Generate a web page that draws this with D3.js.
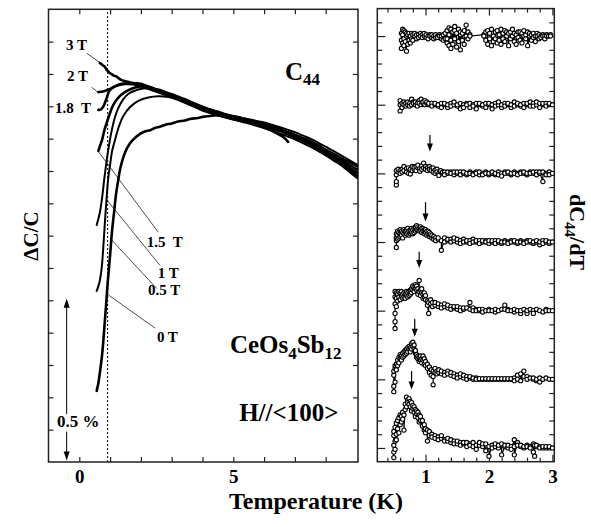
<!DOCTYPE html>
<html>
<head>
<meta charset="utf-8">
<script src="https://cdn.jsdelivr.net/npm/d3@7"></script>
<style>
  body { margin: 0; background: #fff; }
  svg text { font-family: "Liberation Serif", "Times New Roman", serif; font-weight: bold; fill: #000; }
  .pre { white-space: pre; }
</style>
</head>
<body>
<svg id="chart" width="591" height="527"></svg>
<script>
// ---------- left panel: dC/C (%) vs T (K), one curve per field
const fieldLabels = ["0 T", "0.5 T", "1 T", "1.5  T", "1.8  T", "2 T", "3 T"];

const c0T = [[0.565,0.220],[0.62,0.244],[0.67,0.278],[0.74,0.331],[0.80,0.399],[0.87,0.486],[0.93,0.563],[1.0,0.640],[1.06,0.711],[1.13,0.773],[1.19,0.826],[1.26,0.869],[1.32,0.903],[1.42,0.940],[1.55,0.971],[1.71,0.993],[1.97,1.015],[2.15,1.023],[2.30,1.026],[2.45,1.033],[2.62,1.037],[2.8,1.043],[3.01,1.047],[3.2,1.053],[3.43,1.056],[3.6,1.061],[3.85,1.064],[4.05,1.068],[4.24,1.070],[4.4,1.072],[4.57,1.072],[4.8,1.071],[5.0,1.069],[5.25,1.064],[5.5,1.058],[5.75,1.052],[6.0,1.046],[6.25,1.038],[6.5,1.030],[6.75,1.020],[7.0,1.010],[7.25,1.000],[7.5,0.990],[7.75,0.976],[8.0,0.962],[8.25,0.949],[8.5,0.935],[8.75,0.920],[9.02,0.905]];
const c05T = [[0.565,0.529],[0.62,0.544],[0.67,0.563],[0.73,0.603],[0.78,0.665],[0.83,0.739],[0.89,0.820],[0.94,0.878],[1.0,0.919],[1.06,0.959],[1.16,0.996],[1.27,1.033],[1.43,1.070],[1.65,1.098],[1.92,1.117],[2.24,1.127],[2.56,1.131],[2.94,1.128],[3.2,1.122],[3.43,1.116],[3.7,1.107],[3.92,1.098],[4.2,1.088],[4.5,1.078],[4.75,1.069],[5.0,1.060],[5.25,1.053],[5.5,1.047],[5.75,1.040],[6.0,1.033],[6.25,1.025],[6.5,1.016],[6.75,1.007],[7.0,0.998],[7.25,0.987],[7.5,0.975],[7.75,0.962],[8.0,0.948],[8.25,0.933],[8.5,0.918],[8.75,0.899],[9.02,0.878]];
const c1T = [[0.565,0.733],[0.62,0.752],[0.67,0.773],[0.74,0.817],[0.80,0.866],[0.87,0.919],[0.94,0.965],[1.05,1.024],[1.16,1.067],[1.27,1.095],[1.43,1.122],[1.59,1.138],[1.91,1.152],[2.23,1.157],[2.62,1.151],[2.94,1.138],[3.25,1.126],[3.5,1.116],[3.75,1.106],[4.0,1.097],[4.25,1.090],[4.5,1.083],[4.75,1.076],[5.0,1.070],[5.25,1.065],[5.5,1.060],[5.75,1.055],[6.0,1.050],[6.25,1.043],[6.5,1.036],[6.75,1.028],[7.0,1.020],[7.25,1.010],[7.5,1.000],[7.75,0.988],[8.0,0.975],[8.25,0.962],[8.5,0.948],[8.75,0.934],[9.02,0.920]];
const c15T = [[0.62,0.962],[0.67,0.977],[0.74,0.996],[0.80,1.021],[0.89,1.049],[1.0,1.080],[1.10,1.104],[1.26,1.126],[1.48,1.144],[1.81,1.158],[2.13,1.163],[2.35,1.158],[2.6,1.146],[2.8,1.138],[3.0,1.130],[3.25,1.120],[3.5,1.110],[3.75,1.099],[4.0,1.088],[4.25,1.080],[4.5,1.072],[4.75,1.066],[5.0,1.060],[5.25,1.056],[5.5,1.052],[5.75,1.047],[6.0,1.042],[6.25,1.034],[6.5,1.026],[6.75,1.016],[7.0,1.006],[7.25,0.995],[7.5,0.982],[7.75,0.968],[8.0,0.953],[8.25,0.940],[8.5,0.925],[8.75,0.906],[9.02,0.885]];
const c18T = [[0.62,1.089],[0.69,1.090],[0.77,1.098],[0.83,1.110],[0.90,1.129],[0.98,1.148],[1.09,1.158],[1.26,1.165],[1.48,1.169],[1.74,1.168],[2.0,1.162],[2.25,1.154],[2.5,1.146],[2.75,1.137],[3.0,1.128],[3.25,1.119],[3.5,1.109],[3.75,1.099],[4.0,1.090],[4.25,1.082],[4.5,1.074],[4.75,1.067],[5.0,1.061],[5.25,1.056],[5.5,1.051],[5.75,1.046],[6.0,1.040],[6.25,1.032],[6.5,1.024],[6.75,1.014],[7.0,1.004],[7.25,0.994],[7.5,0.983],[7.75,0.970],[8.0,0.956],[8.25,0.942],[8.5,0.928],[8.75,0.912],[9.02,0.895]];
const c2T = [[0.62,1.144],[0.70,1.145],[0.77,1.146],[0.87,1.149],[0.96,1.152],[1.06,1.157],[1.19,1.163],[1.32,1.168],[1.52,1.172],[1.81,1.170],[2.0,1.166],[2.25,1.157],[2.5,1.148],[2.75,1.140],[3.0,1.132],[3.25,1.123],[3.5,1.113],[3.75,1.104],[4.0,1.094],[4.25,1.086],[4.5,1.079],[4.75,1.071],[5.0,1.065],[5.25,1.061],[5.5,1.057],[5.75,1.052],[6.0,1.046],[6.25,1.038],[6.5,1.030],[6.75,1.021],[7.0,1.012],[7.25,1.002],[7.5,0.992],[7.75,0.980],[8.0,0.966],[8.25,0.953],[8.5,0.940],[8.75,0.928],[9.02,0.915]];
const c3T = [[0.67,1.234],[0.75,1.228],[0.83,1.222],[0.88,1.214],[0.94,1.208],[1.00,1.202],[1.06,1.199],[1.12,1.195],[1.21,1.192],[1.30,1.185],[1.38,1.181],[1.48,1.178],[1.58,1.176],[1.75,1.172],[2.0,1.170],[2.25,1.160],[2.5,1.152],[2.75,1.144],[3.0,1.137],[3.25,1.128],[3.5,1.119],[3.75,1.108],[4.0,1.099],[4.25,1.090],[4.5,1.083],[4.75,1.074],[5.0,1.066],[5.25,1.060],[5.5,1.052],[5.75,1.042],[6.0,1.034],[6.25,1.024],[6.5,1.012],[6.65,1.003],[6.78,0.990]];
const leftCurves = [c0T, c05T, c1T, c15T, c18T, c2T, c3T];

// label anchor [T, dC/C] and leader line [T1, y1, T2, y2] (null = no leader)
const labelPos = [[2.52,0.371],[2.23,0.515],[2.55,0.569],[2.19,0.665],[-0.79,1.080],[-0.40,1.178],[-0.43,1.274]];
const leaders = [[0.94,0.517,2.46,0.414],[1.0,0.692,2.51,0.537],[0.90,0.810,2.62,0.608],[0.62,0.960,2.56,0.711],null,[0.40,1.159,0.62,1.142],[0.24,1.264,0.70,1.233]];
const dottedT = 0.92;
const scaleBar = [-0.41, 0.005, 0.505]; // T, bottom, top (0.5 %)

// ---------- right panel: dC44/dT, offset per field, rows = [T, values...]
const rightBase = [0, 5, 10, 15, 20, 25, 30];
const d0T = [[0.50,-0.7,0.2,0.9,-0.3,1.2],[0.52,0.5,1.5,-0.1],[0.54,1.0,1.8,0.6],[0.56,1.4,2.0],[0.58,1.1,2.2],[0.60,1.7,2.4],[0.62,2.3,1.9],[0.64,2.6,2.1],[0.66,2.4,1.3],[0.68,3.2,2.8],[0.70,3.7,3.0],[0.72,3.5,3.3],[0.74,3.2,3.6],[0.76,3.0,3.4],[0.78,3.3,2.7],[0.80,2.9,3.1],[0.82,2.6,3.0],[0.84,2.8,2.3],[0.86,2.5,2.7],[0.88,2.2,2.6],[0.90,2.4,1.9],[0.92,2.0,2.3],[0.95,1.6,2.0],[0.98,1.7,1.3],[1.00,1.4,1.1],[1.03,1.3,0.5],[1.06,1.2,0.9],[1.10,1.0,0.8],[1.15,0.9,0.7],[1.20,0.8,0.6],[1.25,0.7,0.9],[1.30,0.6,0.5],[1.35,0.5,0.7],[1.40,0.4,0.6],[1.45,0.5,0.3],[1.50,0.3,0.5],[1.55,0.4,0.2],[1.60,0.3,0.4],[1.65,0.1,0.4],[1.70,0.3,0.2],[1.75,0.4,0.1],[1.80,0.2,-0.1],[1.85,0.2,0.4],[1.90,0.1,0.3],[1.95,-0.2,0.3],[2.00,0.1,-0.6],[2.05,0.2,0.0],[2.10,0.1,0.3],[2.15,0.0,0.2],[2.20,0.3,-0.5],[2.25,0.1,0.2],[2.30,0.0,0.2],[2.35,0.1,-0.1],[2.40,0.6,0.1,-0.5],[2.45,0.4,0.2],[2.50,0.1,0.2],[2.55,0.0,0.1],[2.60,0.2,0.1],[2.65,0.1,0.0],[2.70,0.3,-0.3],[2.72,-0.6,0.2],[2.75,0.1,0.2],[2.80,0.1,0.0],[2.85,0.0,0.1],[2.90,0.0,0.1],[2.95,0.0,0.1],[3.00,0.0]];
const d05T = [[0.50,0.3,-0.9,-0.5,0.6],[0.52,0.8,-0.2,1.0],[0.54,1.1,0.7],[0.56,1.4,1.0],[0.58,1.6,1.2],[0.60,1.5,1.8],[0.62,1.7,1.4],[0.64,1.9,1.6],[0.66,2.0,1.7],[0.68,1.8,2.1],[0.70,2.2,1.9],[0.72,2.0,2.3],[0.74,2.4,2.2],[0.76,2.3,2.0],[0.78,2.6,2.2],[0.80,2.4,2.7],[0.82,2.2,2.5],[0.84,1.9,2.1],[0.86,1.6,1.8],[0.88,1.5,1.7],[0.90,1.6,1.3],[0.92,1.4,1.7],[0.94,1.5,1.2],[0.96,1.7,1.4],[0.98,1.5,1.1],[1.00,1.3,1.0],[1.03,1.1,0.8],[1.06,0.9,0.5],[1.09,0.7,0.3],[1.12,0.2,-0.4,0.6],[1.15,0.5,0.8],[1.18,0.6,0.4],[1.21,0.5,0.7],[1.25,0.4,0.6],[1.30,0.5,0.3],[1.35,0.6,0.4],[1.40,0.3,0.5],[1.45,0.4,0.2],[1.50,0.3,0.1],[1.55,0.2,0.4],[1.60,0.1,0.3],[1.65,0.2,0.0],[1.70,0.1,0.2],[1.75,0.0,0.1],[1.80,0.1,0.0],[1.85,0.0,0.05],[1.90,0.0,0.05],[1.95,0.0,0.05],[2.00,0.0,0.05],[2.05,0.0,0.05],[2.10,0.0,0.05],[2.15,0.0,0.05],[2.20,0.0,0.05],[2.25,0.0,0.05],[2.30,0.0,0.05],[2.35,0.0,0.05],[2.40,0.1,-0.1],[2.45,0.3,0.0],[2.50,0.4,-0.1],[2.55,0.6,0.2],[2.60,0.2,0.0],[2.65,0.1],[2.70,0.0,0.1],[2.75,-0.1,0.0],[2.80,-0.2,0.1],[2.85,0.0],[2.90,0.1],[2.95,0.0],[3.00,0.0]];
const d1T = [[0.52,-1.3,-0.8,-0.2,0.5,1.0,1.4],[0.54,0.9,1.3,0.3],[0.56,1.2,0.7],[0.58,1.0,1.4],[0.60,1.3,0.8],[0.62,1.1,1.4],[0.64,0.9,1.2],[0.66,1.0,1.3],[0.68,1.2,0.9],[0.70,1.1,1.4],[0.72,1.3,1.0],[0.74,1.4,1.1],[0.76,1.5,1.2],[0.78,1.6,1.3],[0.80,1.5,1.8],[0.82,1.7,1.4],[0.84,1.6,1.9],[0.86,1.8,1.5],[0.88,1.6,1.2],[0.90,2.2,1.4],[0.92,1.5,1.1],[0.94,1.3,1.6],[0.96,1.2,0.9],[0.98,1.0,1.3],[1.00,0.8,1.1],[1.03,0.7,0.4],[1.05,-0.2,0.6],[1.08,0.5,0.8],[1.11,0.6,0.3],[1.15,0.4,0.6],[1.20,0.3,0.5],[1.25,0.4,0.2],[1.30,0.3,0.5],[1.35,0.2,0.4],[1.40,0.3,0.1],[1.45,0.2,0.3],[1.50,0.1,0.3],[1.55,0.2,0.0],[1.60,0.1,0.2],[1.65,0.2],[1.70,0.6,0.1],[1.75,0.2,0.0],[1.80,0.1,0.0],[1.85,0.0,0.1],[1.90,0.1,-0.1],[1.95,0.0],[2.00,0.1,0.0],[2.05,0.0],[2.10,-0.1,0.1],[2.15,0.0],[2.20,0.1],[2.25,0.4,0.1],[2.30,0.1,0.0],[2.35,0.0],[2.40,-0.1,0.1],[2.45,0.0],[2.50,-0.2,0.0],[2.55,0.1],[2.60,-0.2,0.0],[2.65,0.1],[2.70,0.0,-0.2],[2.75,0.1],[2.80,0.0],[2.85,-0.1],[2.90,0.1,0.0],[2.95,0.0],[3.00,0.0]];
const d15T = [[0.54,-0.4,0.1,0.6,0.3],[0.56,0.5,0.2,0.8],[0.58,0.3,0.7],[0.60,0.6,0.4,0.9],[0.62,0.5,0.8],[0.64,0.3,0.7],[0.66,0.6,0.9],[0.68,0.8,0.5],[0.70,0.6,0.9],[0.72,0.7,1.0],[0.74,0.8,0.5],[0.76,0.9,0.6],[0.78,0.7,1.0],[0.80,0.9,0.6],[0.82,1.0,0.7],[0.84,0.8,1.1],[0.86,1.2,0.9],[0.88,0.9,1.1],[0.90,1.0,0.8],[0.92,0.9,1.1],[0.94,1.0,0.7],[0.96,0.8,1.0],[0.98,0.9,0.6],[1.00,0.7,0.9],[1.02,0.8,0.5],[1.04,0.6,0.8],[1.06,0.7,0.4],[1.08,0.5,0.6],[1.10,0.3,0.5],[1.13,0.4,0.2],[1.16,0.3,0.1],[1.20,0.2,0.3],[1.25,0.1,-0.6],[1.30,0.3,0.0],[1.35,0.1,0.2],[1.40,0.2,0.0],[1.45,0.1,0.3],[1.50,0.0,0.2],[1.55,0.1,-0.1],[1.60,0.2,0.0],[1.65,0.0,0.1],[1.70,0.1,-0.1],[1.75,0.2,0.0],[1.80,0.0,0.1],[1.85,0.1,-0.1],[1.90,0.0,0.1],[1.95,0.1,0.0],[2.00,-0.1,0.1],[2.05,0.0,0.1],[2.10,0.1,-0.1],[2.15,0.0,0.1],[2.20,-0.1,0.0],[2.25,0.1,0.0],[2.30,0.0,-0.1],[2.35,0.1,0.0],[2.40,0.0,0.1],[2.45,-0.1,0.0],[2.50,0.1,0.0],[2.55,0.0,-0.1],[2.60,0.1,0.0],[2.65,0.0,0.1],[2.70,-0.1,0.0],[2.75,0.0,0.1],[2.80,-0.2,0.0],[2.85,0.1,-0.1],[2.90,0.0,0.1],[2.95,-0.1,0.0],[3.00,0.0]];
const d18T = [[0.54,-0.85,-0.6,-0.1,0.2],[0.57,0.1,0.3],[0.60,0.2,0.0],[0.63,0.3,0.1],[0.66,0.5,0.2],[0.70,0.35,0.1],[0.73,0.4,0.0],[0.76,-0.05,0.3],[0.79,0.5,0.2],[0.82,0.3,0.45],[0.85,0.5,0.2],[0.88,0.4,0.6],[0.91,0.35,0.15],[0.94,0.55,0.3],[0.97,0.75,0.4],[1.00,0.5,0.3],[1.03,0.4,0.2],[1.06,0.5,0.3],[1.09,0.35,0.2],[1.12,0.4,0.1],[1.15,0.25,0.0],[1.18,0.3,0.1],[1.21,0.0,-0.15],[1.24,0.1,0.2],[1.27,0.0,0.1],[1.30,0.1,-0.1],[1.35,0.0,0.1],[1.40,0.1,0.0],[1.45,-0.1,0.1],[1.50,0.0,0.1],[1.55,0.1,-0.1],[1.60,0.0,0.1],[1.65,-0.1,0.0],[1.70,0.1,0.0],[1.75,0.0,-0.1],[1.80,0.1,0.0],[1.85,-0.1,0.1],[1.90,0.0,-0.1],[1.95,0.1,0.0],[2.00,-0.1,0.0],[2.05,0.0,0.1],[2.10,-0.1,0.0],[2.15,0.1,-0.1],[2.20,0.0,-0.2],[2.25,0.1,0.0],[2.30,0.0,0.1],[2.35,-0.1,0.0],[2.40,0.1,0.0],[2.45,0.0,-0.1],[2.50,0.1,0.0],[2.55,0.0,0.1],[2.60,-0.1,0.0],[2.65,0.1,0.0],[2.70,0.0,0.1],[2.75,0.1,-0.1],[2.80,0.0,0.1],[2.85,-0.6,0.1],[2.90,0.0,-0.1],[2.95,0.1,-0.1],[3.00,0.0]];
const d2T = [[0.60,-0.45,0.0,0.3],[0.63,0.1,-0.2],[0.66,0.2,0.0],[0.69,-0.1,0.1],[0.72,0.0,0.2],[0.75,0.1,-0.1],[0.78,0.4,0.0],[0.81,0.2,0.1],[0.84,0.0,0.2],[0.87,0.1,-0.1],[0.90,0.3,0.1],[0.93,0.4,0.0],[0.96,0.1,0.2],[0.99,0.3,0.0],[1.02,0.1,0.2],[1.05,0.0,0.1],[1.10,0.1,-0.1],[1.15,0.0,0.1],[1.20,-0.1,0.0],[1.25,0.1,-0.2],[1.30,0.0,0.1],[1.35,-0.2,0.0],[1.40,0.1,-0.1],[1.45,0.0,0.2],[1.50,-0.1,0.0],[1.55,-0.3,0.1],[1.60,0.0,-0.2],[1.65,0.1,0.0],[1.70,-0.2,0.1],[1.75,0.0,-0.1],[1.80,0.1,-0.3],[1.85,0.0,0.1],[1.90,-0.1,0.0],[1.95,0.1,-0.2],[2.00,0.0,0.1],[2.05,-0.3,0.0],[2.10,0.1,-0.1],[2.15,0.0,0.2],[2.20,-0.2,0.0],[2.25,0.1,-0.1],[2.30,0.0,0.1],[2.35,-0.2,0.0],[2.40,0.2,-0.1],[2.45,0.0,0.1],[2.50,-0.1,0.0],[2.55,0.1,-0.2],[2.60,0.0,0.1],[2.65,-0.1,0.2],[2.70,0.1,-0.1],[2.75,0.0,0.2],[2.80,-0.2,0.1],[2.85,0.0,0.1],[2.90,0.1,-0.1],[2.95,0.0,0.1],[3.00,0.0]];
const d3T = [[0.62,0.2,-0.3,-0.9],[0.64,0.5,-0.5,0.1],[0.66,-0.2,0.4,-0.7],[0.68,0.3,-0.4],[0.70,-1.1,0.0,0.2],[0.72,-0.6,0.1],[0.74,0.2,-0.3],[0.76,0.0,-0.5],[0.78,-0.2,0.2],[0.80,0.1,-0.3],[0.83,0.0,0.2],[0.86,-0.2,0.1],[0.89,0.1,-0.1],[0.92,0.2,0.0],[0.95,0.1,-0.1],[0.98,0.0,0.2],[1.01,-0.1,0.1],[1.04,0.0,-0.2],[1.07,0.1,0.0],[1.10,-0.1,0.1],[1.13,0.0,-0.2],[1.16,-0.1,0.1],[1.19,0.0,-0.1],[1.22,0.1,0.0],[1.25,-0.2,0.0],[1.28,0.1,-0.3],[1.31,0.2,-0.2],[1.34,0.4,-0.5,-0.2],[1.37,0.6,-0.7,0.1],[1.40,-0.3,0.5,-0.9],[1.43,0.3,-0.6],[1.46,0.7,-0.2,0.4],[1.49,-0.8,0.2],[1.52,0.5,-0.4],[1.55,0.1,-1.0,0.3],[1.58,-0.3,0.2],[1.61,0.4,-0.6],[1.64,0.8,0.0],[1.67,0.3,-0.2],[1.70,0.1,0.0],[1.92,0.1,0.0],[1.95,-0.3,0.3],[1.98,0.4,-0.6],[2.01,-0.2,0.2],[2.04,0.5,-0.7],[2.07,0.0,-0.4],[2.10,0.3,-0.2],[2.13,-0.5,0.4],[2.16,0.1,-0.3],[2.19,0.5,-0.6],[2.22,-0.2,0.2],[2.25,0.4,-0.4],[2.28,0.0,0.3],[2.31,-0.7,0.2],[2.34,0.3,-0.2],[2.37,0.5,0.0],[2.40,-0.4,0.2],[2.43,0.1,-0.6],[2.46,0.3,-0.1],[2.49,-0.3,0.3],[2.52,0.2,-0.5],[2.55,0.0,0.4],[2.58,-0.2,0.1],[2.61,0.3,-0.7],[2.64,0.0,0.2],[2.67,-0.3,0.1],[2.70,0.2,-0.1],[2.73,0.0,-0.4],[2.76,0.2,0.0],[2.79,-0.2,0.1],[2.82,0.0,-0.1],[2.85,0.1,0.0],[2.88,0.0,-0.2],[2.91,0.1,0.0],[2.94,0.0],[2.97,0.1,0.0]];
const rightCurves = [d0T, d05T, d1T, d15T, d18T, d2T, d3T];

// peak arrows for 0, 0.5, 1, 1.5, 1.8 T: [T, top, tip] in axis units
const peakArrows = [[0.78,5.6,4.25],[0.83,9.4,8.1],[0.90,14.3,13.1],[1.00,17.9,16.5],[1.07,22.8,21.6]];

const leftTicksX = [0, 1, 2, 3, 4, 5, 6, 7, 8];
const leftLabelsX = [0, 5];
const leftTicksY = d3.range(1, 14).map(d => d / 10);
const rightMinorX = [0.4,0.6,0.8,1.2,1.4,1.6,1.8,2.2,2.4,2.6,2.8];
const rightMajorX = [1, 2, 3];
const rightMinorY = d3.range(0, 32).filter(d => d % 5 !== 0);
const rightMajorY = [0, 5, 10, 15, 20, 25, 30];

const svg = d3.select("#chart");

const xL = d3.scaleLinear().domain([-1, 9.05]).range([48.5, 358]);
const yL = d3.scaleLinear().domain([0, 1.4]).range([462, 9.3]);
const xR = d3.scaleLinear().domain([0.24, 3.03]).range([377.3, 554.3]);
const yR = d3.scaleLinear().domain([-1, 32]).range([461.7, 8.6]);

function styleAxis(g, size) {
  g.select(".domain").remove();
  g.selectAll("line").attr("stroke", "#222").attr("stroke-width", 1.2);
  g.selectAll("text").attr("font-size", size || 19).attr("font-family", null).attr("fill", "#000");
}

// ---- left panel axes
svg.append("g").attr("transform", `translate(0,${yL(0)})`)
  .call(d3.axisBottom(xL).tickValues(leftTicksX).tickSize(-5).tickPadding(8)
    .tickFormat(d => leftLabelsX.includes(d) ? d : ""))
  .call(g => styleAxis(g));
svg.append("g").attr("transform", `translate(0,${yL(1.4)})`)
  .call(d3.axisTop(xL).tickValues(leftTicksX).tickSize(-5).tickFormat(""))
  .call(g => styleAxis(g));
svg.append("g").attr("transform", `translate(${xL(-1)},0)`)
  .call(d3.axisLeft(yL).tickValues(leftTicksY).tickSize(-5).tickFormat(""))
  .call(g => styleAxis(g));
svg.append("g").attr("transform", `translate(${xL(9.05)},0)`)
  .call(d3.axisRight(yL).tickValues(leftTicksY).tickSize(-5).tickFormat(""))
  .call(g => styleAxis(g));
svg.append("rect")
  .attr("x", xL(-1)).attr("y", yL(1.4))
  .attr("width", xL(9.05) - xL(-1)).attr("height", yL(0) - yL(1.4))
  .attr("fill", "none").attr("stroke", "#222").attr("stroke-width", 1.5);

// dotted line at the transition
svg.append("line")
  .attr("x1", xL(dottedT)).attr("x2", xL(dottedT))
  .attr("y1", yL(0)).attr("y2", yL(1.4))
  .attr("stroke", "#000").attr("stroke-width", 1).attr("stroke-dasharray", "2,2");

// curves
const lineL = d3.line().x(d => xL(d[0])).y(d => yL(d[1])).curve(d3.curveCatmullRom);
leftCurves.forEach((c, i) => {
  svg.append("path").datum(c)
    .attr("fill", "none").attr("stroke", "#000")
    .attr("stroke-width", (i === 1 || i === 2) ? 2 : 2.6)
    .attr("stroke-linejoin", "round").attr("stroke-linecap", "round")
    .attr("d", lineL);
});

// leaders and field labels
leaders.forEach(l => {
  if (!l) return;
  svg.append("line")
    .attr("x1", xL(l[0])).attr("y1", yL(l[1]))
    .attr("x2", xL(l[2])).attr("y2", yL(l[3]))
    .attr("stroke", "#000").attr("stroke-width", 0.7);
});
fieldLabels.forEach((t, i) => {
  svg.append("text").attr("class", "pre")
    .attr("x", xL(labelPos[i][0])).attr("y", yL(labelPos[i][1]))
    .attr("font-size", 15).text(t);
});

// C44 and sample texts
const c44 = svg.append("text").attr("x", xL(6.68)).attr("y", yL(1.182)).attr("font-size", 25);
c44.append("tspan").text("C");
c44.append("tspan").attr("font-size", 17).attr("dy", 5).text("44");

const samp = svg.append("text").attr("x", xL(4.89)).attr("y", yL(0.337)).attr("font-size", 25);
samp.append("tspan").text("CeOs");
samp.append("tspan").attr("font-size", 17).attr("dy", 6).text("4");
samp.append("tspan").attr("dy", -6).text("Sb");
samp.append("tspan").attr("font-size", 17).attr("dy", 6).text("12");

svg.append("text").attr("x", xL(5.19)).attr("y", yL(0.127)).attr("font-size", 25).text("H//<100>");

// 0.5 % scale bar
const sbx = xL(scaleBar[0]);
svg.append("line").attr("x1", sbx).attr("x2", sbx)
  .attr("y1", yL(scaleBar[2]) + 8).attr("y2", yL(0.148))
  .attr("stroke", "#000").attr("stroke-width", 1);
svg.append("line").attr("x1", sbx).attr("x2", sbx)
  .attr("y1", yL(0.094)).attr("y2", yL(scaleBar[1]) - 8)
  .attr("stroke", "#000").attr("stroke-width", 1);
svg.append("path")
  .attr("d", `M${sbx},${yL(scaleBar[2])} l-3,9 l6,0 z`).attr("fill", "#000");
svg.append("path")
  .attr("d", `M${sbx},${yL(scaleBar[1])} l-3,-9 l6,0 z`).attr("fill", "#000");
svg.append("text").attr("class", "pre").attr("x", xL(-0.72)).attr("y", yL(0.108))
  .attr("font-size", 17).text("0.5 %");

// ---- right panel axes
svg.append("g").attr("transform", `translate(0,${yR(-1)})`)
  .call(d3.axisBottom(xR).tickValues(rightMinorX).tickSize(-4).tickFormat(""))
  .call(g => styleAxis(g));
svg.append("g").attr("transform", `translate(0,${yR(-1)})`)
  .call(d3.axisBottom(xR).tickValues(rightMajorX).tickSize(-7).tickPadding(8).tickFormat(d3.format("d")))
  .call(g => styleAxis(g));
svg.append("g").attr("transform", `translate(0,${yR(32)})`)
  .call(d3.axisTop(xR).tickValues(rightMinorX).tickSize(-4).tickFormat(""))
  .call(g => styleAxis(g));
svg.append("g").attr("transform", `translate(0,${yR(32)})`)
  .call(d3.axisTop(xR).tickValues(rightMajorX).tickSize(-7).tickFormat(""))
  .call(g => styleAxis(g));
[[d3.axisLeft, xR(0.24)], [d3.axisRight, xR(3.03)]].forEach(([ax, px]) => {
  svg.append("g").attr("transform", `translate(${px},0)`)
    .call(ax(yR).tickValues(rightMinorY).tickSize(-5).tickFormat(""))
    .call(g => styleAxis(g));
  svg.append("g").attr("transform", `translate(${px},0)`)
    .call(ax(yR).tickValues(rightMajorY).tickSize(-8).tickFormat(""))
    .call(g => styleAxis(g));
});
svg.append("rect")
  .attr("x", xR(0.24)).attr("y", yR(32))
  .attr("width", xR(3.03) - xR(0.24)).attr("height", yR(-1) - yR(32))
  .attr("fill", "none").attr("stroke", "#222").attr("stroke-width", 1.5);

// scattered derivative curves
const lineR = d3.line().x(d => xR(d[0])).y(d => yR(d[1]));
rightCurves.forEach((rows, i) => {
  const pts = [];
  rows.forEach(r => r.slice(1).forEach(v => pts.push([r[0], rightBase[i] + v])));
  svg.append("path").datum(pts)
    .attr("fill", "none").attr("stroke", "#000").attr("stroke-width", 1.2)
    .attr("d", lineR);
  svg.append("g").selectAll("circle").data(pts).join("circle")
    .attr("cx", d => xR(d[0])).attr("cy", d => yR(d[1])).attr("r", 2.1)
    .attr("fill", "#fff").attr("stroke", "#000").attr("stroke-width", 1.1);
});

// peak arrows
peakArrows.forEach(a => {
  const px = xR(a[0]);
  svg.append("line").attr("x1", px).attr("x2", px)
    .attr("y1", yR(a[1])).attr("y2", yR(a[2]) - 6)
    .attr("stroke", "#000").attr("stroke-width", 1.2);
  svg.append("path").attr("d", `M${px},${yR(a[2])} l-3,-8 l6,0 z`).attr("fill", "#000");
});

// ---- axis titles
svg.append("text").attr("x", 316).attr("y", 509).attr("text-anchor", "middle")
  .attr("font-size", 24).text("Temperature (K)");
svg.append("text").attr("transform", "translate(38,236) rotate(-90)")
  .attr("text-anchor", "middle").attr("font-size", 21).text("ΔC/C");
const dl = svg.append("text").attr("transform", "translate(570,232) rotate(90)")
  .attr("text-anchor", "middle").attr("font-size", 22);
dl.append("tspan").text("dC");
dl.append("tspan").attr("font-size", 15).attr("dy", 5).text("44");
dl.append("tspan").attr("dy", -5).text("/dT");
</script>
</body>
</html>
